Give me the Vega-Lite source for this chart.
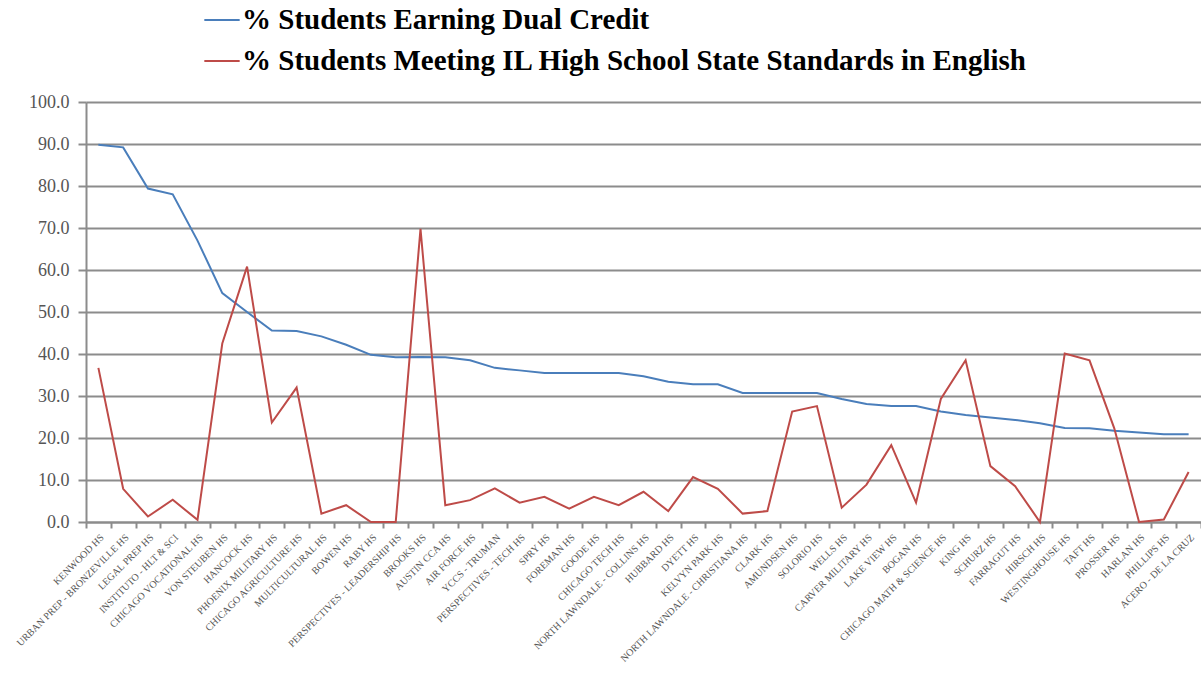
{
  "$schema": "https://vega.github.io/schema/vega-lite/v6.json",
  "autosize": {"type": "none"},
  "padding": {"left": 86, "top": 102, "right": 0, "bottom": 152},
  "width": 1115,
  "height": 420,
  "background": "white",
  "config": {"view": {"stroke": null}},
  "data": {"values": [
    {"school": "KENWOOD HS", "dual": 89.8, "english": 36.7},
    {"school": "URBAN PREP - BRONZEVILLE HS", "dual": 89.2, "english": 7.9},
    {"school": "LEGAL PREP HS", "dual": 79.4, "english": 1.3},
    {"school": "INSTITUTO - HLT & SCI", "dual": 78.0, "english": 5.3},
    {"school": "CHICAGO VOCATIONAL HS", "dual": 67.0, "english": 0.5},
    {"school": "VON STEUBEN HS", "dual": 54.5, "english": 42.5},
    {"school": "HANCOCK HS", "dual": 50.0, "english": 60.8},
    {"school": "PHOENIX MILITARY HS", "dual": 45.6, "english": 23.7},
    {"school": "CHICAGO AGRICULTURE HS", "dual": 45.5, "english": 32.0},
    {"school": "MULTICULTURAL HS", "dual": 44.2, "english": 2.0},
    {"school": "BOWEN HS", "dual": 42.2, "english": 4.0},
    {"school": "RABY HS", "dual": 39.8, "english": 0.0},
    {"school": "PERSPECTIVES - LEADERSHIP HS", "dual": 39.2, "english": 0.0},
    {"school": "BROOKS HS", "dual": 39.3, "english": 69.8},
    {"school": "AUSTIN CCA HS", "dual": 39.2, "english": 4.0},
    {"school": "AIR FORCE HS", "dual": 38.5, "english": 5.2},
    {"school": "YCCS - TRUMAN", "dual": 36.7, "english": 8.0},
    {"school": "PERSPECTIVES - TECH HS", "dual": 36.1, "english": 4.6},
    {"school": "SPRY HS", "dual": 35.5, "english": 6.0},
    {"school": "FOREMAN HS", "dual": 35.5, "english": 3.2},
    {"school": "GOODE HS", "dual": 35.5, "english": 6.0},
    {"school": "CHICAGO TECH HS", "dual": 35.5, "english": 4.0},
    {"school": "NORTH LAWNDALE - COLLINS HS", "dual": 34.7, "english": 7.2},
    {"school": "HUBBARD HS", "dual": 33.4, "english": 2.6},
    {"school": "DYETT HS", "dual": 32.8, "english": 10.7},
    {"school": "KELVYN PARK HS", "dual": 32.8, "english": 7.9},
    {"school": "NORTH LAWNDALE - CHRISTIANA HS", "dual": 30.7, "english": 2.0},
    {"school": "CLARK HS", "dual": 30.7, "english": 2.6},
    {"school": "AMUNDSEN HS", "dual": 30.7, "english": 26.3},
    {"school": "SOLORIO HS", "dual": 30.7, "english": 27.6},
    {"school": "WELLS HS", "dual": 29.3, "english": 3.4},
    {"school": "CARVER MILITARY HS", "dual": 28.1, "english": 8.9},
    {"school": "LAKE VIEW HS", "dual": 27.6, "english": 18.3},
    {"school": "BOGAN HS", "dual": 27.6, "english": 4.6},
    {"school": "CHICAGO MATH & SCIENCE HS", "dual": 26.3, "english": 29.3},
    {"school": "KING HS", "dual": 25.5, "english": 38.5},
    {"school": "SCHURZ HS", "dual": 24.9, "english": 13.3},
    {"school": "FARRAGUT HS", "dual": 24.3, "english": 8.5},
    {"school": "HIRSCH HS", "dual": 23.5, "english": 0.0},
    {"school": "WESTINGHOUSE HS", "dual": 22.4, "english": 40.1},
    {"school": "TAFT HS", "dual": 22.3, "english": 38.5},
    {"school": "PROSSER HS", "dual": 21.7, "english": 22.3},
    {"school": "HARLAN HS", "dual": 21.3, "english": 0.0},
    {"school": "PHILLIPS HS", "dual": 20.9, "english": 0.6},
    {"school": "ACERO - DE LA CRUZ", "dual": 20.9, "english": 11.9}
  ]},
  "transform": [{"fold": ["dual", "english"], "as": ["series", "value"]}],
  "mark": {"type": "line", "strokeWidth": 2, "clip": false},
  "encoding": {
    "x": {
      "field": "school", "type": "nominal", "sort": null, "bandPosition": 0.5,
      "scale": {"type": "band", "paddingInner": 0, "paddingOuter": 0},
      "axis": {
        "title": null, "tickBand": "extent", "labelAngle": -45,
        "labelFont": "Liberation Serif", "labelFontSize": 10, "labelColor": "#555555",
        "labelPadding": 4, "labelLimit": 300,
        "domainColor": "#8c8c8c", "domainWidth": 2,
        "tickColor": "#8c8c8c", "tickWidth": 2, "tickSize": 6, "grid": false
      }
    },
    "y": {
      "field": "value", "type": "quantitative",
      "scale": {"domain": [0, 100], "nice": false},
      "axis": {
        "title": null, "values": [0, 10, 20, 30, 40, 50, 60, 70, 80, 90, 100], "format": ".1f",
        "labelFont": "Liberation Serif", "labelFontSize": 18, "labelColor": "#555555",
        "labelPadding": 9, "grid": true, "gridColor": "#8c8c8c", "gridWidth": 2,
        "domainColor": "#8c8c8c", "domainWidth": 2,
        "tickColor": "#8c8c8c", "tickWidth": 2, "tickSize": 8
      }
    },
    "color": {
      "field": "series", "type": "nominal",
      "scale": {"domain": ["dual", "english"], "range": ["#4A7EBB", "#BE4B48"]},
      "legend": {
        "title": null, "orient": "none", "legendX": 117, "legendY": -101,
        "direction": "vertical", "symbolType": "stroke", "symbolSize": 1250,
        "symbolStrokeWidth": 2, "rowPadding": 7,
        "labelFont": "Liberation Serif", "labelFontSize": 29, "labelFontWeight": "bold",
        "labelColor": "#000000", "labelLimit": 1000, "labelOffset": 1,
        "labelExpr": "datum.value == 'dual' ? '% Students Earning Dual Credit' : '% Students Meeting IL High School State Standards in English'"
      }
    }
  }
}
